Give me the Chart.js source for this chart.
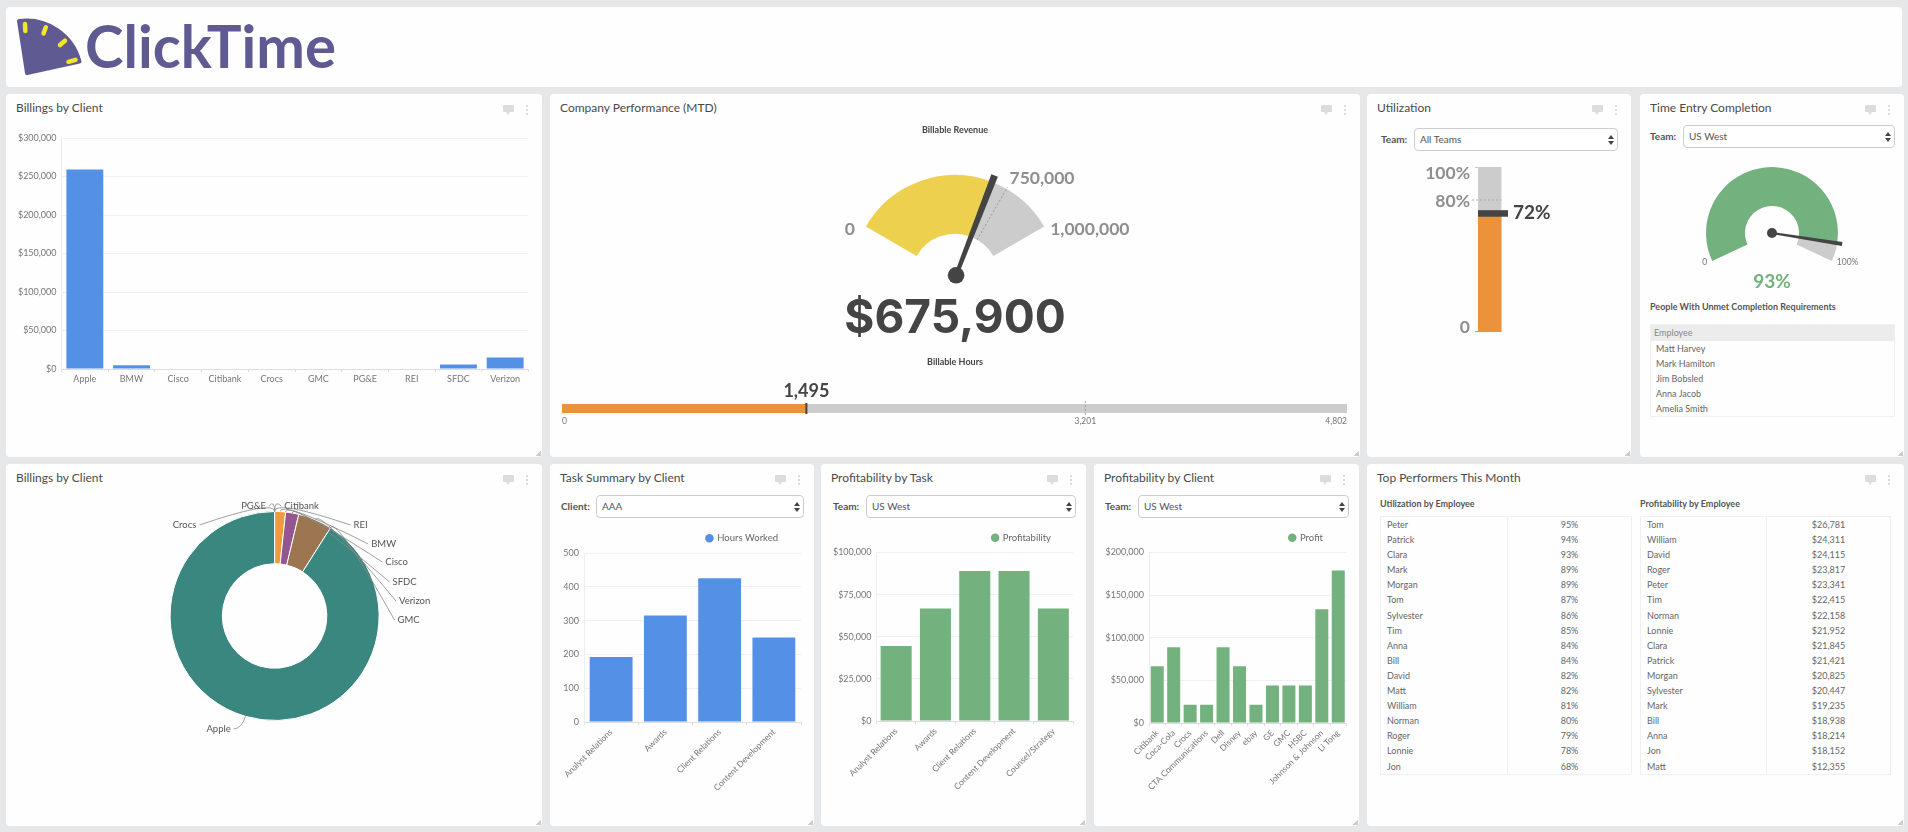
<!doctype html>
<html>
<head>
<meta charset="utf-8">
<title>ClickTime dashboard</title>
<script src="https://cdn.jsdelivr.net/npm/chart.js@4"></script>
<style>
html,body{margin:0;padding:0;background:#e6e7e9;width:1908px;height:832px;overflow:hidden;font-family:Lato,sans-serif;color:#555}
#root{position:relative;width:1908px;height:832px}
.panel{position:absolute;background:#fefefe;border-radius:4px}
.panel .title{position:absolute;left:10px;top:6px;font-size:12px;line-height:15px;color:#4a4a4a}
.panel .grip{position:absolute;right:1px;bottom:1px;width:6px;height:6px;background:linear-gradient(135deg,transparent 55%,#ccc 55%)}
.bubble{position:absolute;width:11px;height:7px;background:#dcdcdc;border-radius:1px}
.bubble:after{content:"";position:absolute;left:3px;top:7px;border-left:2px solid transparent;border-right:2px solid transparent;border-top:3px solid #dcdcdc}
.kebab{position:absolute;width:2px;height:2px;background:#ddd;box-shadow:0 4px 0 #ddd,0 8px 0 #ddd}
canvas{position:absolute}
.abs{position:absolute;white-space:nowrap}
.sel{position:absolute;box-sizing:border-box;background:#fff;border:1px solid #ccc;border-radius:4px;font-size:10px;color:#555;padding-left:5px}
.sel svg{position:absolute;right:3px;top:50%;margin-top:-5px}
.lbl{position:absolute;font-size:10px;font-weight:700;color:#555}
.head{position:absolute;font-size:9px;font-weight:700;color:#555;white-space:nowrap}
.grid{position:absolute;box-sizing:border-box;border:1px solid #f0f0f0;display:grid;grid-auto-rows:15.1px;font-size:9px;line-height:15.1px;color:#666}
.grid div{white-space:nowrap}
.grid .n{padding-left:6px;border-right:1px solid #f0f0f0}
.grid .v{text-align:center}
.list .h{background:#ececec;color:#888;padding-left:3px;height:16px;line-height:16px}
.list .n{border:0;padding-left:5px}
</style>
</head>
<body>
<div id="root"></div>
<script>
// ---- data ----
const billingClients=['Apple','BMW','Cisco','Citibank','Crocs','GMC','PG&E','REI','SFDC','Verizon'];
const billingValues=[259000,4800,0,0,0,0,0,0,5800,15000];
const billingTicks=[0,50000,100000,150000,200000,250000,300000];
const donutClients=['Crocs','PG&E','Citibank','REI','BMW','Cisco','SFDC','Verizon','GMC','Apple'];
const donutColors=['#ef9a3c','#95568f','#9c7650','#3a877f','#ef9a3c','#b5672f','#95568f','#9c7650','#b5672f','#3a877f'];
const taskLabels=['Analyst Relations','Awards','Client Relations','Content Development'];
const taskHours=[192,315,425,250];
const profitTaskLabels=['Analyst Relations','Awards','Client Relations','Content Development','Counsel/Strategy'];
const profitTaskValues=[44500,66800,89000,89000,66800];
const profitClientLabels=['Citibank','Coca-Cola','Crocs','CTA Communications','Dell','Disney','ebay','GE','GMC','HSBC','Johnson & Johnson','Li Tong'];
const profitClientValues=[66500,89000,21500,21500,89000,66500,21500,44000,44000,44000,133500,179000];
const revenueValue=675900, revenueTarget=750000, revenueMax=1000000;
const hoursValue=1495, hoursTarget=3201, hoursMax=4802;
const hoursTicks=[0,3201,4802];
const utilValue=72, utilTarget=80, utilMax=100;
const completionValue=93, completionMax=100;
const unmetPeople=['Matt Harvey','Mark Hamilton','Jim Bobsled','Anna Jacob','Amelia Smith'];
const utilNames=['Peter','Patrick','Clara','Mark','Morgan','Tom','Sylvester','Tim','Anna','Bill','David','Matt','William','Norman','Roger','Lonnie','Jon'];
const utilRates=['95%','94%','93%','89%','89%','87%','86%','85%','84%','84%','82%','82%','81%','80%','79%','78%','68%'];
const profitNames=['Tom','William','David','Roger','Peter','Tim','Norman','Lonnie','Clara','Patrick','Morgan','Sylvester','Mark','Bill','Anna','Jon','Matt'];
const profitAmounts=['$26,781','$24,311','$24,115','$23,817','$23,341','$22,415','$22,158','$21,952','$21,845','$21,421','$20,825','$20,447','$19,235','$18,938','$18,214','$18,152','$12,355'];

// ---- colours ----
const BLUE='#5491e6',GREEN='#73b27e',ORANGE='#ec923a',GREY='#cccccc',YELLOW='#edd14e',DARK='#444444',LABEL='#8e8e8e',TICK='#777777';
const GAUGE_FONT='700 17.5px Lato';

Chart.defaults.font.family='Lato';
Chart.defaults.animation=false;
const root=document.getElementById('root');

// ---- panels ----
const box=(x,y,w,h)=>({x,y,w,h});
const P={
  bar:box(6,94,536,363), perf:box(550,94,810,363), util:box(1367,94,264,363), time:box(1640,94,264,363),
  donut:box(6,464,536,362), task:box(550,464,264,362), pTask:box(821,464,265,362), pClient:box(1094,464,265,362), top:box(1367,464,537,362),
};
function addPanel(title,p){
  const d=document.createElement('div');
  d.className='panel';
  d.style.cssText=`left:${p.x}px;top:${p.y}px;width:${p.w}px;height:${p.h}px`;
  d.innerHTML=`<div class="title">${title}</div><div class="grip"></div>
    <div class="bubble" style="right:28px;top:11px"></div><div class="kebab" style="right:14px;top:11px"></div>`;
  root.appendChild(d);
}
addPanel('Billings by Client',P.bar);
addPanel('Company Performance (MTD)',P.perf);
addPanel('Utilization',P.util);
addPanel('Time Entry Completion',P.time);
addPanel('Billings by Client',P.donut);
addPanel('Task Summary by Client',P.task);
addPanel('Profitability by Task',P.pTask);
addPanel('Profitability by Client',P.pClient);
addPanel('Top Performers This Month',P.top);

// logo
root.insertAdjacentHTML('beforeend',`<div class="panel" style="left:6px;top:7px;width:1896px;height:80px"></div>
<svg class="abs" style="left:0;top:0" width="360" height="90">
  <path d="M19 21 A55 55 0 0 1 79.500 61.500 L27 73 Z" fill="#5f5b92" stroke="#5f5b92" stroke-width="4" stroke-linejoin="round"/>
  <g stroke="#f5e625" stroke-width="4.500" stroke-linecap="round">
    <line x1="25" y1="24" x2="25.300" y2="31"/><line x1="43.500" y1="33.500" x2="45.800" y2="27.300"/>
    <line x1="60" y1="45" x2="65" y2="40.700"/><line x1="68.500" y1="61.800" x2="75.500" y2="59.800"/>
  </g>
  <text x="85" y="68" font-family="Lato" font-weight="700" font-size="60" fill="#5f5b92" textLength="251" lengthAdjust="spacingAndGlyphs">ClickTime</text>
</svg>`);

// dropdowns
const arrows=`<svg width="6" height="10"><path d="M3 0L6 4H0ZM3 10L0 6H6Z" fill="#444"/></svg>`;
function addSelect(label,value,lx,x,y,w,h){
  root.insertAdjacentHTML('beforeend',`<div class="lbl" style="left:${lx}px;top:${y+h/2-7}px">${label}</div>
    <div class="sel" style="left:${x}px;top:${y}px;width:${w}px;height:${h}px;line-height:${h-2}px">${value}${arrows}</div>`);
}
addSelect('Team:','All Teams',1381,1414,128,204,23);
addSelect('Team:','US West',1650,1683,125,212,23);
addSelect('Client:','AAA',561,596,495,208,23);
addSelect('Team:','US West',833,866,495,210,23);
addSelect('Team:','US West',1105,1138,495,211,23);

// tables
function addHead(text,x,y){root.insertAdjacentHTML('beforeend',`<div class="head" style="left:${x}px;top:${y}px">${text}</div>`);}
function addPairs(names,vals,x,y,w,split){
  const cells=names.map((n,i)=>`<div class="n">${n}</div><div class="v">${vals[i]}</div>`).join('');
  root.insertAdjacentHTML('beforeend',`<div class="grid" style="left:${x}px;top:${y}px;width:${w}px;grid-template-columns:${split}px 1fr">${cells}</div>`);
}
addHead('Utilization by Employee',1380,498);
addHead('Profitability by Employee',1640,498);
addPairs(utilNames,utilRates,1380,516,252,127);
addPairs(profitNames,profitAmounts,1640,516,251,126);
addHead('People With Unmet Completion Requirements',1650,301);
root.insertAdjacentHTML('beforeend',`<div class="grid list" style="left:1650px;top:324px;width:245px;grid-template-columns:1fr;grid-template-rows:16px">
  <div class="h">Employee</div>${unmetPeople.map(n=>`<div class="n">${n}</div>`).join('')}</div>`);

// ---- chart helpers ----
function addCanvas(p){
  const c=document.createElement('canvas');
  c.width=p.w;c.height=p.h;
  c.style.cssText=`left:${p.x}px;top:${p.y}px;width:${p.w}px;height:${p.h}px`;
  root.appendChild(c);
  return c;
}
const usd=v=>'$'+Number(v).toLocaleString('en-US');
function text(ctx,s,x,y,font,color,align){
  ctx.save();ctx.font=font;ctx.fillStyle=color;ctx.textAlign=align||'center';ctx.textBaseline='middle';ctx.fillText(s,x,y);ctx.restore();
}
function barChart(p,plot,labels,values,color,yMax,step,fmt,rot,legendName,legendRight){
  return new Chart(addCanvas(p),{type:'bar',
    data:{labels,datasets:[{label:legendName||'',data:values,backgroundColor:color,barPercentage:.79,categoryPercentage:1}]},
    options:{responsive:false,
      layout:{padding:{left:0,right:p.x+p.w-plot.r,top:plot.t-p.y-(legendName?29.5:0),bottom:0}},
      plugins:{tooltip:{enabled:false},
        legend:{display:!!legendName,align:'end',labels:{usePointStyle:true,boxWidth:6,boxHeight:6,padding:10,color:'#666',font:{size:9.5}}}},
      scales:{
        x:{grid:{drawOnChartArea:false,tickLength:3,color:'#ddd'},border:{color:'#ddd'},
          ticks:{autoSkip:false,minRotation:rot,maxRotation:rot,color:TICK,font:{size:rot?8.5:9},padding:2},
          afterFit:s=>{s.height=p.y+p.h-plot.b;}},
        y:{min:0,max:yMax,ticks:{stepSize:step,callback:fmt,color:TICK,font:{size:9},padding:5},
          grid:{color:'#f0f0f0',drawTicks:false},border:{color:'#eee'},
          afterFit:s=>{s.width=plot.l-p.x;}}}},
    plugins:[{id:'legendSpot',afterLayout(c){if(legendName)c.legend.right=legendRight-p.x;}}]});
}
function needle(ctx,arc,angle,len,baseW,tipW,hub,hubShift){
  const ca=Math.cos(angle),sa=Math.sin(angle);
  ctx.save();ctx.fillStyle=DARK;ctx.beginPath();
  ctx.moveTo(arc.x-sa*baseW/2,arc.y+ca*baseW/2);
  ctx.lineTo(arc.x+ca*len-sa*tipW/2,arc.y+sa*len+ca*tipW/2);
  ctx.lineTo(arc.x+ca*len+sa*tipW/2,arc.y+sa*len-ca*tipW/2);
  ctx.lineTo(arc.x+sa*baseW/2,arc.y-ca*baseW/2);
  ctx.closePath();ctx.fill();
  ctx.beginPath();ctx.arc(arc.x+ca*hubShift,arc.y+sa*hubShift,hub,0,Math.PI*2);ctx.fill();ctx.restore();
}

// ---- Billings bar ----
barChart(P.bar,{l:61.5,t:138,r:528.5,b:369},billingClients,billingValues,BLUE,300000,billingTicks[1],usd,0);

// ---- Billable revenue gauge ----
new Chart(addCanvas(P.perf),{type:'doughnut',
  data:{labels:['Billable Revenue','Remaining'],datasets:[{data:[revenueValue,revenueMax-revenueValue],backgroundColor:[YELLOW,GREY],borderWidth:0}]},
  options:{responsive:false,rotation:-60,circumference:120,cutout:'43%',
    layout:{padding:{left:315.8,right:315.8,top:81,bottom:201}},
    plugins:{legend:{display:false},tooltip:{enabled:false}}},
  plugins:[{id:'revenueOverlay',afterDatasetsDraw(c){
    const ctx=c.ctx,m=c.getDatasetMeta(0).data,a=m[0],R=a.outerRadius,start=a.startAngle,span=m[1].endAngle-start;
    const tAngle=start+span*revenueTarget/revenueMax;
    ctx.save();ctx.strokeStyle='#999';ctx.setLineDash([2,2]);ctx.beginPath();
    ctx.moveTo(a.x+Math.cos(tAngle)*a.innerRadius,a.y+Math.sin(tAngle)*a.innerRadius);
    ctx.lineTo(a.x+Math.cos(tAngle)*(R+2),a.y+Math.sin(tAngle)*(R+2));ctx.stroke();ctx.restore();
    needle(ctx,a,a.endAngle,110,4,7,8.3,3);
    text(ctx,'0',a.x+Math.cos(start)*R-11,a.y+Math.sin(start)*R+3,GAUGE_FONT,LABEL,'right');
    text(ctx,revenueMax.toLocaleString('en-US'),a.x+Math.cos(start+span)*R+6,a.y+Math.sin(start+span)*R+3,GAUGE_FONT,LABEL,'left');
    text(ctx,revenueTarget.toLocaleString('en-US'),a.x+Math.cos(tAngle)*R+3,a.y+Math.sin(tAngle)*R-11,GAUGE_FONT,LABEL,'left');
    text(ctx,usd(revenueValue),a.x,225,'700 46px Inter',DARK);
    text(ctx,'Billable Revenue',a.x,36,'700 9px Lato','#444');
    text(ctx,'Billable Hours',a.x,268,'700 9px Lato','#444');
  }}]});

// ---- Billable hours bullet ----
const bulletBox=box(550,380,810,60);
new Chart(addCanvas(bulletBox),{type:'bar',
  data:{labels:['Billable Hours'],datasets:[
    {data:[hoursValue],backgroundColor:ORANGE,order:1},
    {data:[hoursMax],backgroundColor:GREY,order:2}]},
  options:{responsive:false,indexAxis:'y',
    datasets:{bar:{grouped:false,barPercentage:1,categoryPercentage:1}},
    layout:{padding:{left:12,right:13,top:24,bottom:0}},
    plugins:{legend:{display:false},tooltip:{enabled:false}},
    scales:{y:{display:false},
      x:{min:0,max:hoursMax,grid:{display:false,drawTicks:false},border:{display:false},
        afterBuildTicks:s=>{s.ticks=hoursTicks.map(value=>({value}));},
        afterFit:s=>{s.height=27;},
        ticks:{autoSkip:false,align:'inner',maxRotation:0,padding:3,color:TICK,font:{size:8.5},callback:v=>Number(v).toLocaleString('en-US')}}}},
  plugins:[{id:'hoursOverlay',afterDatasetsDraw(c){
    const ctx=c.ctx,x=c.scales.x,area=c.chartArea,vx=x.getPixelForValue(hoursValue),tx=x.getPixelForValue(hoursTarget);
    ctx.save();ctx.fillStyle=DARK;ctx.fillRect(vx-1,area.top-1,2,area.bottom-area.top+2);
    ctx.strokeStyle='#999';ctx.setLineDash([2,2]);ctx.beginPath();ctx.moveTo(tx,area.top-3);ctx.lineTo(tx,area.bottom+3);ctx.stroke();ctx.restore();
    text(ctx,hoursValue.toLocaleString('en-US'),vx,area.top-13,'700 18px Lato',DARK);
  }}]});

// ---- Utilization thermometer ----
new Chart(addCanvas(P.util),{type:'bar',
  data:{labels:['Utilization'],datasets:[
    {data:[utilValue],backgroundColor:ORANGE,order:1},
    {data:[utilMax],backgroundColor:GREY,order:2}]},
  options:{responsive:false,
    datasets:{bar:{grouped:false,barPercentage:1,categoryPercentage:1}},
    layout:{padding:{left:111,right:129.500,top:73,bottom:125}},
    plugins:{legend:{display:false},tooltip:{enabled:false}},
    scales:{x:{display:false},y:{display:false,min:0,max:utilMax}}},
  plugins:[{id:'utilOverlay',afterDatasetsDraw(c){
    const ctx=c.ctx,y=c.scales.y,a=c.chartArea,py=v=>y.getPixelForValue(v),lx=a.left-8;
    ctx.save();
    ctx.fillStyle=GREY;ctx.fillRect(a.left-3,py(utilMax),3,1);
    ctx.fillStyle=ORANGE;ctx.fillRect(a.left-3,py(0)-1,3,1);
    ctx.strokeStyle='#aaa';ctx.setLineDash([2,2]);ctx.beginPath();ctx.moveTo(a.left-6,py(utilTarget));ctx.lineTo(a.right,py(utilTarget));ctx.stroke();
    ctx.setLineDash([]);ctx.fillStyle=DARK;ctx.fillRect(a.left,py(utilValue)-3,a.right-a.left+6.5,6.5);
    ctx.restore();
    text(ctx,utilMax+'%',lx,py(utilMax)+6,GAUGE_FONT,LABEL,'right');
    text(ctx,utilTarget+'%',lx,py(utilTarget)+1,GAUGE_FONT,LABEL,'right');
    text(ctx,'0',lx,py(0)-5,GAUGE_FONT,LABEL,'right');
    text(ctx,utilValue+'%',a.right+11.5,py(utilValue),'700 19px Lato',DARK,'left');
  }}]});

// ---- Time entry gauge ----
new Chart(addCanvas(P.time),{type:'doughnut',
  data:{labels:['Complete','Remaining'],datasets:[{data:[completionValue,completionMax-completionValue],backgroundColor:[GREEN,GREY],borderWidth:0}]},
  options:{responsive:false,rotation:-115,circumference:230,cutout:'41%',
    layout:{padding:{left:66,right:66,top:73,bottom:196}},
    plugins:{legend:{display:false},tooltip:{enabled:false}}},
  plugins:[{id:'timeOverlay',afterDatasetsDraw(c){
    const ctx=c.ctx,m=c.getDatasetMeta(0).data,a=m[0],R=a.outerRadius,start=a.startAngle,end=m[1].endAngle;
    needle(ctx,a,a.endAngle,71,2,4,5,0);
    text(ctx,'0',a.x+Math.cos(start)*R-5,a.y+Math.sin(start)*R+1,'8.5px Lato',TICK,'right');
    text(ctx,completionMax+'%',a.x+Math.cos(end)*R+5,a.y+Math.sin(end)*R+1,'8.5px Lato',TICK,'left');
    text(ctx,completionValue+'%',a.x,188,'700 19px Lato',GREEN);
  }}]});

// ---- Billings donut ----
const donutValues=donutClients.map(n=>billingValues[billingClients.indexOf(n)]);
// label spots, as px offsets from the donut centre
const donutSpots=[[-90,-91],[-21,-110],[27,-110],[86,-91],[109,-72],[122,-54],[130,-34],[140,-15],[134,4],[-56,113]];
new Chart(addCanvas(P.donut),{type:'doughnut',
  data:{labels:donutClients,datasets:[{data:donutValues,backgroundColor:donutColors,borderColor:'#fff',
    borderWidth:donutValues.map(v=>v>1000?1:0)}]},
  options:{responsive:false,cutout:'50%',
    layout:{padding:{left:163.600,right:162.400,top:47,bottom:105}},
    plugins:{legend:{display:false},tooltip:{enabled:false}}},
  plugins:[{id:'donutLabels',afterDatasetsDraw(c){
    const ctx=c.ctx;
    c.getDatasetMeta(0).data.forEach((arc,i)=>{
      const mid=(arc.startAngle+arc.endAngle)/2,R=arc.outerRadius;
      const ax=arc.x+Math.cos(mid)*R,ay=arc.y+Math.sin(mid)*R;
      const [dx,dy]=donutSpots[i],lx=arc.x+dx,ly=arc.y+dy;
      ctx.font='9.5px Lato';
      const w=ctx.measureText(donutClients[i]).width;
      const sx=lx+(dx<0?w/2+3:-w/2-3);
      ctx.save();ctx.strokeStyle='#888';ctx.lineWidth=.8;ctx.beginPath();ctx.moveTo(sx,ly);
      ctx.quadraticCurveTo(ax+Math.cos(mid)*12,ay+Math.sin(mid)*12,ax,ay);ctx.stroke();ctx.restore();
      text(ctx,donutClients[i],lx,ly,'9.5px Lato','#555');
    });
  }}]});

// ---- Lower bar charts ----
barChart(P.task,{l:584,t:553,r:801,b:722},taskLabels,taskHours,BLUE,500,100,v=>v,45,'Hours Worked',788);
barChart(P.pTask,{l:876.500,t:552.500,r:1073,b:721},profitTaskLabels,profitTaskValues,GREEN,100000,25000,usd,45,'Profitability',1061);
barChart(P.pClient,{l:1149,t:552.500,r:1346.500,b:723},profitClientLabels,profitClientValues,GREEN,200000,50000,usd,45,'Profit',1333);
</script>
</body>
</html>
